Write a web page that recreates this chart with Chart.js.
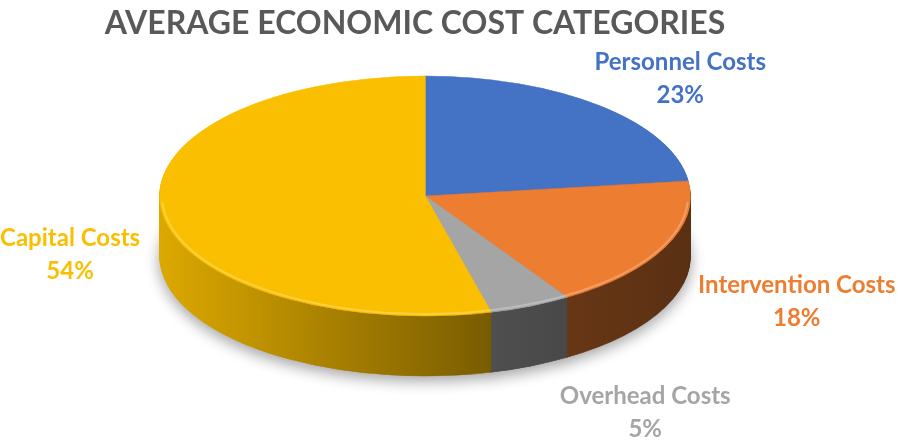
<!DOCTYPE html>
<html>
<head>
<meta charset="utf-8">
<script src="https://cdn.jsdelivr.net/npm/chart.js@4.4.1/dist/chart.umd.min.js"></script>
<style>
  html, body { margin: 0; padding: 0; background: #fff; }
  #wrap { width: 898px; height: 445px; }
</style>
</head>
<body>
<div id="wrap"><canvas id="costChart"></canvas></div>
<script>
// data
const categories = ["Personnel Costs", "Intervention Costs", "Overhead Costs", "Capital Costs"];
const shares = [23, 18, 5, 54];

// styles
const sliceColors = ["#4472C4", "#ED7D31", "#A5A5A5", "#FABF00"];
const PIE = { cx: 425, cy: 196, rx: 265, ry: 120, depth: 60 };
// where each label sits relative to the rim point at the middle of its slice
const labelNudge = [[80, -28], [132, 54], [115, 106], [-92, 43]];

function shade(hex, f) {
    const n = parseInt(hex.slice(1), 16);
    const r = Math.round(((n >> 16) & 255) * f);
    const g = Math.round(((n >> 8) & 255) * f);
    const b = Math.round((n & 255) * f);
    return "rgb(" + r + "," + g + "," + b + ")";
}

/* squash the pie into an ellipse and build the side wall under it */
const pie3d = {
    id: "pie3d",
    beforeDatasetsDraw(chart) {
        const ctx = chart.ctx;
        const arcs = chart.getDatasetMeta(0).data;
        const { x, y, outerRadius } = arcs[0];
        const k = outerRadius / PIE.ry;

        ctx.save();
        ctx.translate(PIE.cx, PIE.cy);
        ctx.scale(PIE.rx / outerRadius, PIE.ry / outerRadius);
        ctx.translate(-x, -y);

        const sides = arcs.map((arc, i) => {
            const g = ctx.createLinearGradient(x - outerRadius, 0, x + outerRadius, 0);
            g.addColorStop(0, shade(sliceColors[i], 0.88));
            g.addColorStop(0.64, shade(sliceColors[i], 0.47));
            g.addColorStop(1, shade(sliceColors[i], 0.38));
            return g;
        });

        for (let d = PIE.depth; d >= 1; d--) {
            ctx.save();
            ctx.translate(0, d * k);
            if (d === PIE.depth) {
                ctx.shadowColor = "rgba(0,0,0,0.35)";
                ctx.shadowBlur = 14;
                ctx.shadowOffsetY = 5;
            }
            arcs.forEach((arc, i) => {
                const bg = arc.options.backgroundColor;
                const bc = arc.options.borderColor;
                arc.options.backgroundColor = sides[i];
                arc.options.borderColor = sides[i];
                arc.draw(ctx);
                arc.options.backgroundColor = bg;
                arc.options.borderColor = bc;
            });
            ctx.restore();
        }
    },
    afterDatasetsDraw(chart) {
        const ctx = chart.ctx;
        ctx.restore();

        // soft highlight on the front rim of the top face
        ctx.save();
        ctx.beginPath();
        ctx.ellipse(PIE.cx, PIE.cy, PIE.rx - 2, PIE.ry - 2, 0, 0.05, Math.PI - 0.05);
        ctx.strokeStyle = "rgba(255,255,255,0.25)";
        ctx.lineWidth = 2;
        ctx.stroke();
        ctx.restore();
    }
};

const sliceLabels = {
    id: "sliceLabels",
    afterDraw(chart) {
        const ctx = chart.ctx;
        const arcs = chart.getDatasetMeta(0).data;
        ctx.save();
        ctx.font = "bold 24px Lato";
        ctx.textAlign = "center";
        ctx.textBaseline = "middle";
        arcs.forEach((arc, i) => {
            const mid = (arc.startAngle + arc.endAngle) / 2;
            const px = PIE.cx + PIE.rx * Math.cos(mid) + labelNudge[i][0];
            const py = PIE.cy + PIE.ry * Math.sin(mid) + labelNudge[i][1];
            ctx.fillStyle = sliceColors[i];
            ctx.fillText(categories[i], px, py - 16);
            ctx.fillText(shares[i] + "%", px, py + 17);
        });
        ctx.restore();
    }
};

new Chart(document.getElementById("costChart"), {
    type: "pie",
    data: {
        labels: categories,
        datasets: [{
            data: shares,
            backgroundColor: sliceColors,
            borderColor: sliceColors,
            borderWidth: 1,
            clip: false
        }]
    },
    options: {
        responsive: true,
        maintainAspectRatio: false,
        animation: false,
        events: [],
        layout: {
            padding: { left: 0, right: 68, top: 0, bottom: 0 }
        },
        plugins: {
            legend: { display: false },
            tooltip: { enabled: false },
            title: {
                display: true,
                text: "AVERAGE ECONOMIC COST CATEGORIES",
                color: "#595959",
                font: { family: "Lato", size: 32, weight: "bold" },
                padding: { top: 4, bottom: 10 }
            }
        }
    },
    plugins: [pie3d, sliceLabels]
});
</script>
</body>
</html>
